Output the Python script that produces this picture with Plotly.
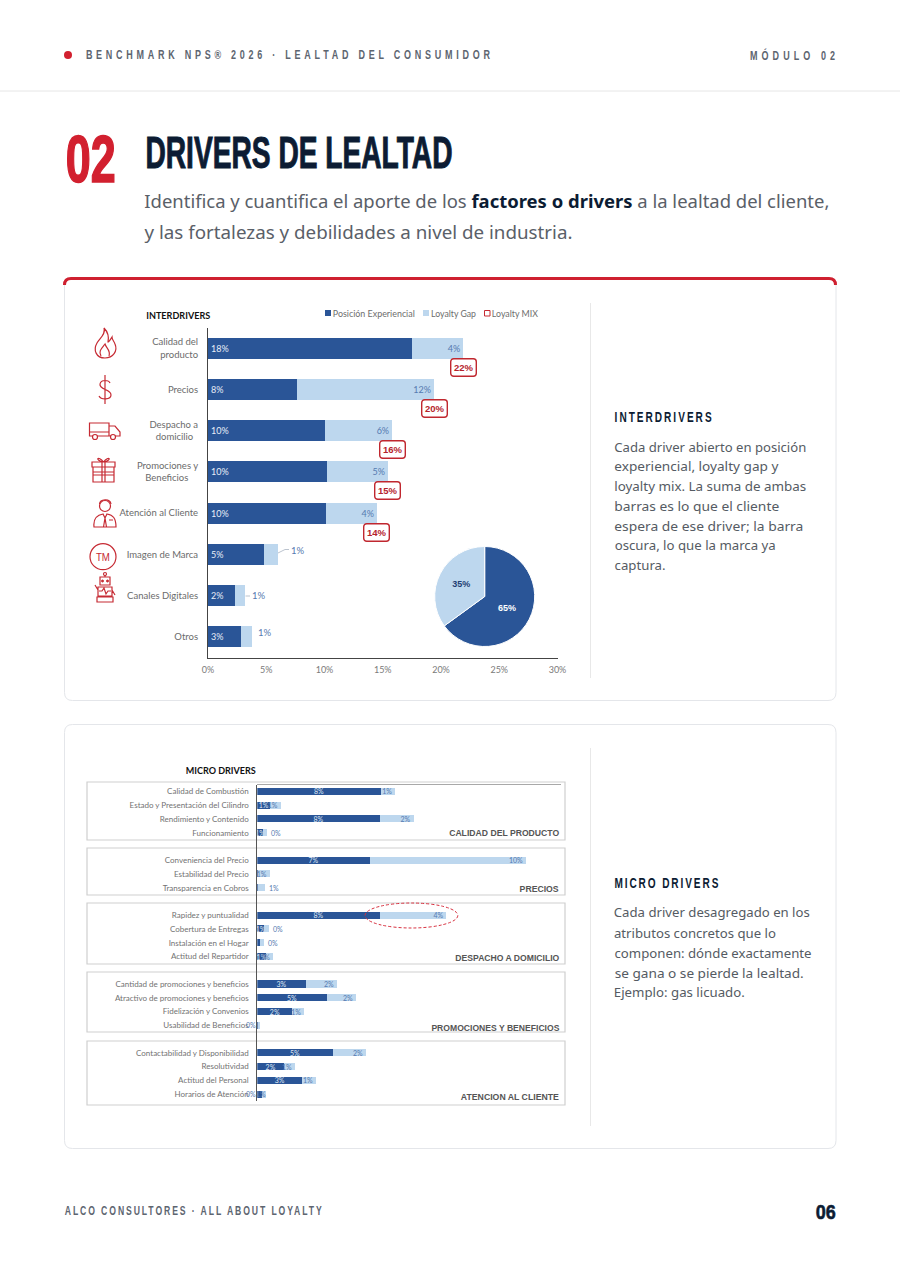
import json
import plotly.graph_objects as go

# ---------- data ----------
inter_cats = ["Calidad del<br>\u00a0\u00a0producto", "Precios", "Despacho a<br>domicilio\u00a0\u00a0",
              "Promociones y<br>Beneficios\u00a0\u00a0\u00a0\u00a0", "Atención al Cliente", "Imagen de Marca",
              "Canales Digitales", "Otros"]
inter_exp = [17.5, 7.6, 10.0, 10.2, 10.1, 4.8, 2.3, 2.8]
inter_gap = [4.4, 11.8, 5.8, 5.25, 4.4, 1.2, 0.9, 1.0]
inter_exp_lbl = ["18%", "8%", "10%", "10%", "10%", "5%", "2%", "3%"]
inter_gap_lbl = ["4%", "12%", "6%", "5%", "4%", "", "", ""]
inter_gap_out = ["", "", "", "", "", "1%", "1%", "1%"]
inter_mix = ["22%", "20%", "16%", "15%", "14%", "", "", ""]
pie_labels = ["Posición Experiencial", "Loyalty Gap"]
pie_values = [65, 35]
x_ticks = [0, 5, 10, 15, 20, 25, 30]

micro_cats = ["Calidad de Combustión", "Estado y Presentación del Cilindro", "Rendimiento y Contenido", "Funcionamiento", " ",
              "Conveniencia del Precio", "Estabilidad del Precio", "Transparencia en Cobros", "  ",
              "Rapidez y puntualidad", "Cobertura de Entregas", "Instalación en el Hogar", "Actitud del Repartidor", "   ",
              "Cantidad de promociones y beneficios", "Atractivo de promociones y beneficios", "Fidelización y Convenios", "Usabilidad de Beneficios", "    ",
              "Contactabilidad y Disponibilidad", "Resolutividad", "Actitud del Personal", "Horarios de Atención"]
micro_exp = [7.86, 0.81, 7.8, 0.38, None, 7.15, 0.05, 0.05, None, 7.8, 0.43, 0.17, 0.55, None, 3.08, 4.42, 2.24, 0.03, None, 4.8, 1.7, 2.87, 0.28]
micro_gap = [0.93, 0.68, 2.15, 0.25, None, 9.97, 0.75, 0.45, None, 4.25, 0.3, 0.27, 0.47, None, 2.0, 1.87, 0.75, 0.15, None, 2.13, 0.7, 0.87, 0.27]
micro_exp_lbl = ["8%", "1%", "8%", "1%", "", "7%", "", "", "", "8%", "1%", "", "1%", "", "3%", "5%", "2%", "", "", "5%", "2%", "3%", ""]
micro_gap_lbl = ["1%", "1%", "2%", "", "", "10%", "1%", "", "", "4%", "", "", "1%", "", "2%", "2%", "1%", "", "", "2%", "1%", "1%", "1%"]
micro_out_lbl = ["", "", "", "0%", "", "", "", "1%", "", "", "0%", "0%", "", "", "", "", "", "", "", "", "", "", ""]
micro_left_lbl = ["", "", "", "", "", "", "", "", "", "", "", "", "", "", "", "", "", "0%", "", "", "", "", "0%"]
micro_groups = ["CALIDAD DEL PRODUCTO", "PRECIOS", "DESPACHO A DOMICILIO", "PROMOCIONES Y BENEFICIOS", "ATENCION AL CLIENTE"]

inter_text = ["Cada driver abierto en posición", "experiencial, loyalty gap y", "loyalty mix. La suma de ambas",
              "barras es lo que el cliente", "espera de ese driver; la barra", "oscura, lo que la marca ya", "captura."]
micro_text = ["Cada driver desagregado en los", "atributos concretos que lo", "componen: dónde exactamente",
              "se gana o se pierde la lealtad.", "Ejemplo: gas licuado."]

# ---------- style ----------
DARK, LIGHT, RED, NAVY, GREY = "#2a5597", "#bdd7ee", "#c62a33", "#0c1c33", "#5d6570"
CHART = "Lato, Carlito, sans-serif"
BODY = "'Noto Sans', sans-serif"
COND = "'Liberation Sans Narrow', 'Liberation Sans', sans-serif"
ARIAL = "'Liberation Sans', Arial, sans-serif"
W, H = 900, 1274

shapes, annots, fit = [], [], {}


def txt(x0, x1, y, text, size, color, font=BODY, bold=False, mode="spacingAndGlyphs", stroke=0, sx=0):
    fit[len(annots)] = [x1 - x0, mode, stroke, color, sx]
    annots.append(dict(x=(x0 + x1) / 2, y=y, xref="x", yref="y", text=text, showarrow=False,
                       xanchor="center", yanchor="middle", align="center",
                       font=dict(size=size, color=color, family=font, weight=700 if bold else 400)))


def path(d, color=RED, width=1.2, fill="rgba(0,0,0,0)", layer="below", dash=None):
    shapes.append(dict(type="path", xref="x", yref="y", path=d, layer=layer, fillcolor=fill,
                       line=dict(color=color, width=width, dash=dash)))


def circ(cx, cy, rx, ry=None, color=RED, width=1.2, layer="below", dash=None, fill="rgba(0,0,0,0)"):
    ry = rx if ry is None else ry
    shapes.append(dict(type="circle", xref="x", yref="y", x0=cx - rx, x1=cx + rx, y0=cy - ry, y1=cy + ry,
                       layer=layer, fillcolor=fill, line=dict(color=color, width=width, dash=dash)))


def rrect(x0, y0, x1, y1, r):
    return (f"M{x0+r} {y0} H{x1-r} Q{x1} {y0} {x1} {y0+r} V{y1-r} Q{x1} {y1} {x1-r} {y1} "
            f"H{x0+r} Q{x0} {y1} {x0} {y1-r} V{y0+r} Q{x0} {y0} {x0+r} {y0} Z")


# ---------- page furniture ----------
path("M0 91 H900", "#e6e6e6", 1)
circ(68, 55, 4, color="#d2202f", fill="#d2202f", width=0)
txt(86, 490, 55, "BENCHMARK NPS® 2026 · LEALTAD DEL CONSUMIDOR", 12.5, GREY, COND, True, "spacing", sx=0.72)
txt(750, 835, 55, "MÓDULO 02", 12.5, GREY, COND, True, "spacing", sx=0.72)
txt(65, 115, 159, "02", 66, "#d2202f", COND, True, stroke=1.6)
txt(145, 452, 152, "DRIVERS DE LEALTAD", 44, NAVY, COND, True, stroke=1)
txt(144, 829, 201, "Identifica y cuantifica el aporte de los <b style='color:#0c1c33'>factores o drivers</b> a la lealtad del cliente,", 17.5, "#5a6068")
txt(144, 572, 232, "y las fortalezas y debilidades a nivel de industria.", 17.5, "#5a6068")
txt(64, 321, 1211, "ALCO CONSULTORES · ALL ABOUT LOYALTY", 12, GREY, COND, True, "spacing", sx=0.72)
txt(815, 835, 1211, "06", 21, NAVY, COND, True, stroke=0.6)

path(rrect(64.5, 278, 836, 700.5, 8), "#e4e6ea", 1, "#ffffff")
path("M64.5 285 Q64.5 278.5 71 278.5 H829 Q835.5 278.5 835.5 285", "#cf2030", 3)
path(rrect(64.5, 724.5, 836, 1148.5, 8), "#e4e6ea", 1, "#ffffff")
path("M590.5 303 V678", "#e8e8e8", 1)
path("M590.5 748 V1126", "#e8e8e8", 1)

txt(614, 711, 417, "INTERDRIVERS", 14, NAVY, COND, True, "spacing", sx=0.72)
for t, y, x1 in zip(inter_text, [447, 466, 486, 506, 526, 545, 565], [806, 778, 806, 779, 803, 775, 665]):
    txt(614, x1, y, t, 13, "#555b63")
txt(614, 718, 883, "MICRO DRIVERS", 14, NAVY, COND, True, "spacing", sx=0.72)
for t, y, x1 in zip(micro_text, [912, 933, 953, 973, 992], [810, 776, 811, 803, 745]):
    txt(614, x1, y, t, 13, "#555b63")

# ---------- icons ----------
path("M104 328 C106 334 100 338 97 343 C93 350 96 358 105 358 C113 358 118 351 115 344 C114 341 112 340 112 337 "
     "C110 340 109 342 108 342 C109 337 108 332 104 328 Z M101 356 C98 351 102 348 105 344 C106 348 111 350 109 356")
path("M110 383 C109 380 101 379 100 384 C99 390 111 389 111 395 C111 400 101 400 99 396 M105 375 V404")
path("M89.5 423 H109 V436 H89.5 Z M109 426 H115 L120 432 V436 H109 M89.5 432 H109")
circ(95, 437, 2.5, fill="#ffffff")
circ(113, 437, 2.5, fill="#ffffff")
path("M93 467 H114 V482 H93 Z M92 462 H115 V467 H92 Z M102 462 V482 M105 462 V482 M93 472 H114 M93 475 H114 "
     "M103.5 462 C98 455 94 460 103.5 462 C113 460 109 455 103.5 462")
circ(105, 506, 5.5)
path("M99.5 504 C100 499 110 498 111 504 M94 527 C93 518 97 515 103 514 L105 518 L107 514 C113 515 116 518 116 527 Z "
     "M105 518 L103.5 527 M105 518 L106.5 527 M109 520 H113")
circ(103, 556.7, 13)
txt(96, 110, 557, "TM", 11, RED, ARIAL)
path("M100 577 H110 V585 H100 Z M98 587 H112 V596 H98 Z M97 597 H113 V602 H97 Z M99 591 H102 L104 588 L106 594 L108 591 H111 "
     "M98 590 L95 585 M112 590 L115 595 M105 577 V575")
circ(105, 574, 1.5)
circ(102.5, 581, 1, width=1, fill=RED)
circ(107.5, 581, 1, width=1, fill=RED)

# ---------- chart furniture ----------
txt(146, 210, 315, "INTERDRIVERS", 10, "#111111", CHART, True)
shapes.append(dict(type="rect", xref="x", yref="y", x0=325, x1=331, y0=310, y1=316, fillcolor=DARK, line_width=0, layer="below"))
shapes.append(dict(type="rect", xref="x", yref="y", x0=423, x1=429, y0=310, y1=316, fillcolor=LIGHT, line_width=0, layer="below"))
shapes.append(dict(type="rect", xref="x", yref="y", x0=484.5, x1=490, y0=310.5, y1=316, fillcolor="#ffffff", line=dict(color=RED, width=1), layer="below"))
txt(333, 415, 313, "Posición Experiencial", 9.5, "#6d6d6d", CHART)
txt(431, 476, 313, "Loyalty Gap", 9.5, "#6d6d6d", CHART)
txt(492, 538, 313, "Loyalty MIX", 9.5, "#6d6d6d", CHART)
path("M278 553 L285 549.5 H289", "#a9b4c2", 0.8, layer="above")
path("M245.5 596 H250", "#a9b4c2", 0.8, layer="above")

txt(186, 256, 770, "MICRO DRIVERS", 10, "#111111", CHART, True)
for (y0, y1) in [(782, 840), (848, 895), (903, 964), (972, 1032), (1041, 1105)]:
    path(f"M87 {y0} H565 V{y1} H87 Z", "#cfcfcf", 1.2)
path("M257 784.5 H561", "#a8a8a8", 1)
for g, y, x0 in zip(micro_groups, [833, 889, 958, 1028, 1097], [449, 520, 455, 431, 461]):
    txt(x0, 559, y, g, 8.5, "#555555", ARIAL, True)
circ(411.4, 915.5, 46.4, 12.5, color="#d8303f", width=1, layer="above", dash="3px,2px")

# ---------- traces ----------
fig = go.Figure()
# page overlay axes (x/y), so every chart paints above the cards
fig.add_scatter(x=[0], y=[0], mode="markers", marker=dict(opacity=0), hoverinfo="skip", showlegend=False, xaxis="x", yaxis="y")

fig.add_bar(name="Posición Experiencial", y=inter_cats, x=inter_exp, orientation="h", xaxis="x2", yaxis="y2",
            marker=dict(color=DARK, line_width=0), text=inter_exp_lbl, textposition="inside", insidetextanchor="start",
            constraintext="none", textfont=dict(size=9, color="#e8eef8", family=CHART), textangle=0)
fig.add_bar(name="Loyalty Gap", y=inter_cats, x=inter_gap, orientation="h", xaxis="x2", yaxis="y2",
            marker=dict(color=LIGHT, line_width=0), text=inter_gap_lbl, textposition="inside", insidetextanchor="end",
            constraintext="none", textfont=dict(size=9, color="#557ab0", family=CHART), textangle=0)
fig.add_pie(labels=pie_labels, values=pie_values, sort=False, direction="clockwise", rotation=0,
            marker=dict(colors=[DARK, LIGHT], line=dict(color="#ffffff", width=1)),
            textinfo="percent", textposition="inside", insidetextorientation="horizontal",
            insidetextfont=dict(size=9, family=ARIAL, color=["#ffffff", "#1f3f73"], weight=700),
            domain=dict(x=[434.7 / W, 534.7 / W], y=[1 - 646.5 / H, 1 - 546.5 / H]), showlegend=False)
fig.add_bar(name="Posición Experiencial", y=micro_cats, x=micro_exp, orientation="h", xaxis="x3", yaxis="y3",
            marker=dict(color=DARK, line_width=0), text=micro_exp_lbl, textposition="inside", insidetextanchor="middle",
            constraintext="none", textfont=dict(size=7, color="#dfe8f5", family=CHART), textangle=0)
fig.add_bar(name="Loyalty Gap", y=micro_cats, x=micro_gap, orientation="h", xaxis="x3", yaxis="y3",
            marker=dict(color=LIGHT, line_width=0), text=micro_gap_lbl, textposition="inside", insidetextanchor="end",
            constraintext="none", textfont=dict(size=7, color="#557ab0", family=CHART), textangle=0)

# data-anchored labels
mix_idx = []
out_shift = {inter_cats[5]: (11, 4), inter_cats[6]: (5, 0), inter_cats[7]: (4, 4)}
for c, e, g, m, o in zip(inter_cats, inter_exp, inter_gap, inter_mix, inter_gap_out):
    if m:
        mix_idx.append(len(annots))
        annots.append(dict(x=e + g, y=c, xref="x2", yref="y2", yshift=-19, text=f"<b>{m}</b>", showarrow=False,
                           bgcolor="#ffffff", bordercolor="#c0272f", borderwidth=1.4, borderpad=2.5,
                           font=dict(size=9.5, color="#b5232c", family=ARIAL)))
    if o:
        annots.append(dict(x=e + g, y=c, xref="x2", yref="y2", xanchor="left", text=o, showarrow=False,
                           xshift=out_shift[c][0], yshift=out_shift[c][1],
                           font=dict(size=9.5, color="#557ab0", family=CHART)))
for c, e, g, o, l in zip(micro_cats, micro_exp, micro_gap, micro_out_lbl, micro_left_lbl):
    if o:
        annots.append(dict(x=e + g, y=c, xref="x3", yref="y3", xanchor="left", xshift=2, text=o, showarrow=False,
                           font=dict(size=7, color="#557ab0", family=CHART)))
    if l:
        annots.append(dict(x=0, y=c, xref="x3", yref="y3", xanchor="right", xshift=1, text=l, showarrow=False,
                           font=dict(size=7, color="#557ab0", family=CHART)))

hidden = dict(visible=False, fixedrange=True)
fig.update_layout(
    width=W, height=H, margin=dict(l=0, r=0, t=0, b=0, autoexpand=False), autosize=False,
    paper_bgcolor="#ffffff", plot_bgcolor="rgba(0,0,0,0)", showlegend=False, barmode="stack",
    bargap=0.49, hovermode=False, font=dict(family=CHART),
    shapes=shapes, annotations=annots,
    xaxis=dict(domain=[0, 1], range=[0, W], **hidden),
    yaxis=dict(domain=[0, 1], range=[H, 0], **hidden),
    xaxis2=dict(domain=[208 / W, 557.5 / W], range=[0, 30], anchor="y2", tickvals=x_ticks,
                ticktext=[f"{t}%" for t in x_ticks], showgrid=False, zeroline=False, ticks="", showline=True,
                linecolor="#444444", linewidth=1, tickfont=dict(size=9, color="#7a7a7a", family=CHART),
                ticklabelstandoff=4, fixedrange=True),
    yaxis2=dict(domain=[1 - 657.5 / H, 1 - 327.5 / H], anchor="x2", type="category", categoryorder="array",
                categoryarray=inter_cats, range=[7.5, -0.5], tickmode="array", tickvals=inter_cats, ticktext=inter_cats,
                showgrid=False, zeroline=False, ticks="", showline=True, linecolor="#444444", linewidth=1,
                tickfont=dict(size=9.5, color="#6b6b6b", family=CHART), ticklabelstandoff=7, fixedrange=True),
    xaxis3=dict(domain=[257.3 / W, 571.3 / W], range=[0, 20], anchor="y3", visible=False, fixedrange=True),
    yaxis3=dict(domain=[1 - 1100.9 / H, 1 - 784.6 / H], anchor="x3", type="category", categoryorder="array",
                categoryarray=micro_cats, range=[22.5, -0.5], tickmode="array", tickvals=micro_cats, ticktext=micro_cats,
                showgrid=False, zeroline=False, ticks="", showline=True, linecolor="#555555", linewidth=1,
                tickfont=dict(size=8, color="#727272", family=CHART), ticklabelstandoff=6, fixedrange=True),
)
fig.update_traces(selector=dict(type="bar"), cliponaxis=False)

post = """
document.body.style.margin='0';
var FIT=%s, MIX=%s;
var gd=document.getElementById('{plot_id}');
function applyFit(){
  document.querySelectorAll('.annotation[data-index]').forEach(function(g){
    var i=g.getAttribute('data-index'), f=FIT[i], t=g.querySelector('.annotation-text');
    if(f&&t){
      var sx=f[4]||1;
      t.setAttribute('textLength',f[0]/sx); t.setAttribute('lengthAdjust',f[1]);
      if(f[2]){t.style.stroke=f[3]; t.style.strokeWidth=f[2]+'px';}
      if(f[4]){t.style.transformBox='fill-box'; t.style.transformOrigin='center'; t.style.transform='scaleX('+sx+')';}
    }
    if(MIX.indexOf(+i)>=0){var r=g.querySelector('rect.bg'); if(r){r.setAttribute('rx',3); r.setAttribute('ry',3);}}
  });
}
applyFit(); setTimeout(applyFit,50);
if(gd&&gd.on){gd.on('plotly_afterplot',applyFit);}
""" % (json.dumps(fit), json.dumps(mix_idx))

fig.write_html("out.html", post_script=post, config=dict(displayModeBar=False))
